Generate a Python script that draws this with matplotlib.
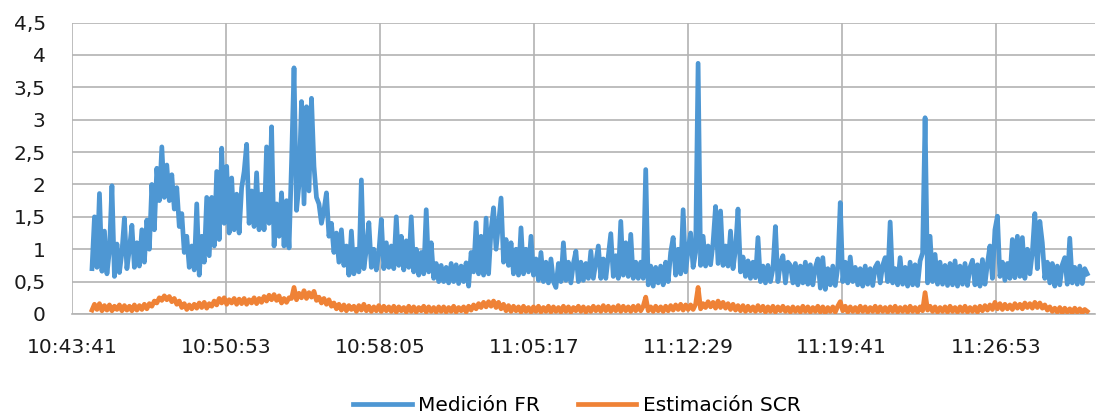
import numpy as np
import matplotlib
matplotlib.use("Agg")
from matplotlib import pyplot as plt

# seconds after 10:43:41 for first and last sample
T_START = 56
T_END = 2849

tick_seconds = [0, 432, 864, 1296, 1728, 2160, 2592]
tick_labels = ['10:43:41', '10:50:53', '10:58:05', '11:05:17', '11:12:29', '11:19:41', '11:26:53']
y_ticks = [0, 0.5, 1, 1.5, 2, 2.5, 3, 3.5, 4, 4.5]
y_labels = ['0', '0,5', '1', '1,5', '2', '2,5', '3', '3,5', '4', '4,5']

# Medición FR
medicion_fr = [
    0.70, 1.50, 0.72, 1.86, 0.66, 1.28, 0.62, 0.98, 1.98, 0.58, 1.08, 0.64, 0.95, 1.48, 0.70, 1.00, 1.37, 0.72, 1.10, 0.74,
    1.30, 0.80, 1.45, 1.00, 2.00, 1.30, 2.25, 1.75, 2.58, 1.80, 2.30, 1.75, 2.15, 1.62, 1.95, 1.35, 1.55, 0.95, 1.20, 0.72,
    1.05, 0.68, 1.70, 0.60, 1.20, 0.80, 1.80, 0.90, 1.80, 1.05, 2.20, 1.15, 2.56, 1.40, 2.28, 1.25, 2.10, 1.30, 1.85, 1.25,
    1.95, 2.20, 2.62, 1.40, 1.90, 1.35, 2.18, 1.30, 1.85, 1.30, 2.58, 1.40, 2.89, 1.05, 1.70, 1.20, 1.87, 1.05, 1.75, 1.02,
    2.33, 3.80, 1.60, 2.00, 3.28, 1.70, 3.20, 1.90, 3.33, 2.28, 1.80, 1.70, 1.40, 1.60, 1.87, 1.20, 1.40, 0.95, 1.25, 0.80,
    1.30, 0.75, 1.05, 0.60, 1.28, 0.62, 1.00, 0.65, 2.07, 0.70, 1.00, 1.41, 0.72, 1.00, 0.68, 0.95, 1.46, 0.70, 1.10, 0.72,
    1.05, 0.70, 1.50, 0.75, 1.20, 0.68, 1.13, 0.72, 1.50, 0.65, 1.00, 0.60, 0.95, 0.62, 1.61, 0.65, 1.10, 0.55, 0.78, 0.50,
    0.75, 0.50, 0.72, 0.48, 0.78, 0.50, 0.76, 0.47, 0.74, 0.50, 0.79, 0.43, 0.95, 0.65, 1.41, 0.62, 1.20, 0.60, 1.48, 0.62,
    1.30, 1.64, 1.00, 1.40, 1.79, 0.80, 1.15, 0.75, 1.10, 0.62, 1.00, 0.60, 1.33, 0.62, 1.00, 0.65, 1.20, 0.60, 0.85, 0.52,
    0.95, 0.50, 0.80, 0.48, 0.85, 0.50, 0.41, 0.78, 0.50, 1.10, 0.52, 0.80, 0.48, 0.78, 0.97, 0.50, 0.80, 0.52, 0.78, 0.55,
    0.97, 0.55, 0.80, 1.05, 0.55, 0.85, 0.55, 0.90, 1.24, 0.58, 0.90, 0.55, 1.43, 0.60, 1.10, 0.58, 1.23, 0.55, 0.80, 0.55,
    0.80, 0.55, 2.23, 0.45, 0.74, 0.43, 0.72, 0.48, 0.74, 0.45, 0.80, 0.50, 0.95, 1.18, 0.60, 1.00, 0.62, 1.61, 0.65, 1.00,
    1.25, 0.72, 0.95, 3.87, 0.75, 1.20, 0.74, 1.05, 0.76, 1.10, 1.66, 0.78, 1.59, 0.75, 1.05, 0.74, 1.28, 0.70, 1.00, 1.62,
    0.65, 0.88, 0.58, 0.82, 0.55, 0.80, 0.56, 1.18, 0.50, 0.74, 0.48, 0.75, 0.50, 0.70, 1.35, 0.50, 0.78, 0.90, 0.48, 0.80,
    0.75, 0.48, 0.78, 0.45, 0.74, 0.48, 0.80, 0.46, 0.76, 0.45, 0.72, 0.85, 0.40, 0.87, 0.38, 0.70, 0.45, 0.74, 0.44, 0.72,
    1.72, 0.50, 0.80, 0.48, 0.88, 0.50, 0.72, 0.45, 0.70, 0.43, 0.74, 0.46, 0.70, 0.44, 0.72, 0.79, 0.48, 0.75, 0.87, 0.50,
    1.42, 0.48, 0.70, 0.45, 0.87, 0.46, 0.72, 0.43, 0.80, 0.45, 0.76, 0.44, 0.82, 0.94, 3.03, 0.48, 1.20, 0.50, 0.92, 0.46,
    0.80, 0.46, 0.75, 0.44, 0.78, 0.45, 0.82, 0.43, 0.74, 0.46, 0.78, 0.44, 0.72, 0.83, 0.45, 0.76, 0.43, 0.84, 0.46, 0.78,
    1.05, 0.55, 1.30, 1.51, 0.58, 0.80, 0.52, 0.78, 0.55, 1.15, 0.56, 1.20, 0.58, 1.18, 0.55, 1.00, 0.62, 0.95, 1.55, 0.70,
    1.43, 1.10, 0.55, 0.80, 0.48, 0.78, 0.43, 0.74, 0.45, 0.76, 0.87, 0.46, 1.17, 0.48, 0.72, 0.46, 0.74, 0.47, 0.70, 0.62,
]

# Estimación SCR
estimacion_scr = [
    0.06, 0.15, 0.07, 0.16, 0.05, 0.13, 0.06, 0.14, 0.05, 0.12, 0.07, 0.14, 0.05, 0.13, 0.06, 0.12, 0.05, 0.14, 0.06, 0.13,
    0.07, 0.15, 0.08, 0.16, 0.12, 0.20, 0.17, 0.25, 0.21, 0.28, 0.22, 0.27, 0.19, 0.24, 0.15, 0.20, 0.10, 0.16, 0.07, 0.14,
    0.08, 0.15, 0.09, 0.17, 0.10, 0.18, 0.09, 0.16, 0.12, 0.20, 0.14, 0.24, 0.17, 0.25, 0.15, 0.22, 0.17, 0.24, 0.15, 0.23,
    0.16, 0.24, 0.15, 0.22, 0.17, 0.25, 0.16, 0.24, 0.18, 0.27, 0.20, 0.29, 0.22, 0.30, 0.21, 0.28, 0.17, 0.24, 0.18, 0.25,
    0.24, 0.41, 0.22, 0.32, 0.25, 0.36, 0.24, 0.33, 0.26, 0.35, 0.21, 0.26, 0.17, 0.24, 0.15, 0.22, 0.12, 0.17, 0.08, 0.15,
    0.06, 0.14, 0.05, 0.13, 0.07, 0.12, 0.04, 0.13, 0.06, 0.15, 0.05, 0.12, 0.04, 0.11, 0.05, 0.13, 0.04, 0.12, 0.05, 0.11,
    0.04, 0.12, 0.03, 0.11, 0.05, 0.10, 0.03, 0.12, 0.04, 0.11, 0.03, 0.10, 0.05, 0.12, 0.03, 0.11, 0.04, 0.10, 0.03, 0.11,
    0.04, 0.11, 0.03, 0.10, 0.04, 0.12, 0.03, 0.10, 0.05, 0.11, 0.03, 0.12, 0.06, 0.14, 0.08, 0.16, 0.10, 0.18, 0.11, 0.19,
    0.12, 0.20, 0.10, 0.18, 0.08, 0.15, 0.05, 0.13, 0.04, 0.12, 0.05, 0.11, 0.03, 0.12, 0.04, 0.10, 0.03, 0.11, 0.04, 0.12,
    0.03, 0.10, 0.04, 0.12, 0.03, 0.11, 0.04, 0.10, 0.03, 0.12, 0.04, 0.11, 0.03, 0.10, 0.05, 0.12, 0.04, 0.11, 0.03, 0.10,
    0.04, 0.12, 0.05, 0.11, 0.04, 0.13, 0.05, 0.12, 0.04, 0.11, 0.05, 0.13, 0.04, 0.12, 0.05, 0.11, 0.04, 0.12, 0.05, 0.13,
    0.05, 0.12, 0.26, 0.05, 0.11, 0.04, 0.12, 0.05, 0.11, 0.04, 0.12, 0.05, 0.13, 0.06, 0.14, 0.07, 0.15, 0.06, 0.14, 0.07,
    0.14, 0.07, 0.15, 0.41, 0.08, 0.16, 0.10, 0.19, 0.11, 0.18, 0.09, 0.20, 0.10, 0.18, 0.09, 0.16, 0.07, 0.15, 0.06, 0.13,
    0.05, 0.13, 0.04, 0.12, 0.05, 0.11, 0.04, 0.13, 0.05, 0.12, 0.03, 0.11, 0.04, 0.12, 0.03, 0.11, 0.05, 0.12, 0.04, 0.10,
    0.03, 0.11, 0.04, 0.10, 0.03, 0.12, 0.04, 0.11, 0.03, 0.10, 0.04, 0.12, 0.03, 0.11, 0.02, 0.10, 0.04, 0.11, 0.03, 0.12,
    0.19, 0.05, 0.12, 0.03, 0.11, 0.04, 0.10, 0.03, 0.12, 0.04, 0.11, 0.03, 0.10, 0.04, 0.12, 0.03, 0.11, 0.04, 0.10, 0.03,
    0.11, 0.04, 0.12, 0.03, 0.10, 0.04, 0.11, 0.03, 0.12, 0.04, 0.10, 0.03, 0.11, 0.05, 0.33, 0.06, 0.12, 0.04, 0.11, 0.03,
    0.10, 0.04, 0.11, 0.03, 0.12, 0.04, 0.10, 0.03, 0.11, 0.04, 0.12, 0.03, 0.10, 0.04, 0.11, 0.03, 0.12, 0.05, 0.13, 0.06,
    0.14, 0.07, 0.18, 0.08, 0.16, 0.07, 0.15, 0.08, 0.14, 0.07, 0.16, 0.09, 0.15, 0.08, 0.17, 0.10, 0.16, 0.09, 0.18, 0.10,
    0.17, 0.09, 0.14, 0.06, 0.11, 0.04, 0.09, 0.03, 0.10, 0.02, 0.09, 0.03, 0.08, 0.02, 0.09, 0.03, 0.08, 0.02, 0.07, 0.04,
]

t_fr = np.linspace(T_START, T_END, len(medicion_fr))
t_scr = np.linspace(T_START, T_END, len(estimacion_scr))

plt.rcParams['font.family'] = ['DejaVu Sans']
plt.rcParams['font.size'] = 14.5

fig = plt.figure(figsize=(11.03, 4.19), dpi=100)
ax = fig.add_axes([0.0653, 0.2506, 0.9275, 0.6957])

ax.plot(t_fr, medicion_fr, color='#4e97d3', lw=3.4, solid_joinstyle='round', label='Medición FR', zorder=3)
ax.plot(t_scr, estimacion_scr, color='#ef8236', lw=3.4, solid_joinstyle='round', label='Estimación SCR', zorder=4)

ax.set_xlim(0, 2871)
ax.set_ylim(0, 4.5)
ax.set_xticks(tick_seconds)
ax.set_xticklabels(tick_labels)
ax.set_yticks(y_ticks)
ax.set_yticklabels(y_labels)
ax.tick_params(length=0, colors='#1a1a1a')
ax.tick_params(axis='y', pad=19)
ax.tick_params(axis='x', pad=17)

ax.grid(True, color='#b3b3b3', lw=1.2)
ax.set_axisbelow(True)
for side in ['top', 'right', 'left']:
    ax.spines[side].set_visible(False)
ax.spines['bottom'].set_color('#b3b3b3')
ax.spines['bottom'].set_linewidth(1.2)

fig.legend(loc='center', bbox_to_anchor=(0.523, 0.033), ncol=2, frameon=False,
           handlelength=2.9, columnspacing=1.9, handletextpad=0.3)

fig.savefig('out.png', dpi=100)
